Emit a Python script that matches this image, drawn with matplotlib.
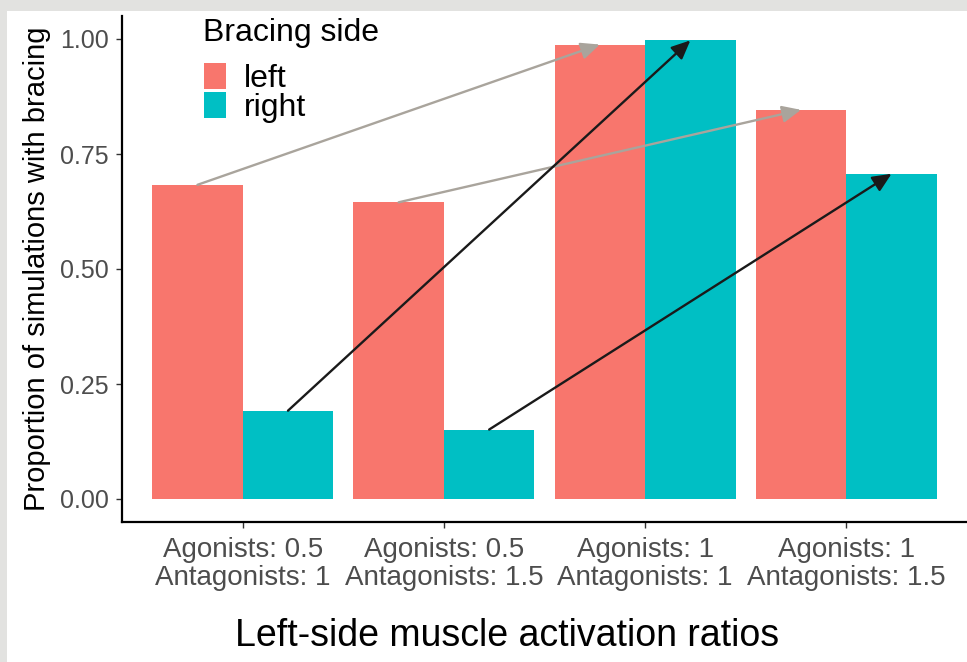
import numpy as np
import matplotlib
matplotlib.use('Agg')
import matplotlib.pyplot as plt
from matplotlib.patches import Rectangle, Patch

plt.rcParams['font.family'] = ['Liberation Sans', 'DejaVu Sans']

# data
groups = ['Agonists: 0.5\nAntagonists: 1', 'Agonists: 0.5\nAntagonists: 1.5',
          'Agonists: 1\nAntagonists: 1', 'Agonists: 1\nAntagonists: 1.5']
left_vals = [0.683, 0.645, 0.988, 0.846]
right_vals = [0.192, 0.151, 0.997, 0.707]
sides = ['left', 'right']
side_colors = ['#F8766D', '#00BFC4']
# arrows: from group i to group j for each side
arrow_pairs = [(0, 2), (1, 3)]
arrow_colors = {'left': '#a9a49c', 'right': '#1a1a1a'}

W, H = 967, 662
fig = plt.figure(figsize=(W/100, H/100), dpi=100, facecolor='#e2e2e0')
fig.patches.append(Rectangle((7/W, 0), 1, 1 - 11/H, transform=fig.transFigure,
                             facecolor='white', edgecolor='none', zorder=-1))

ax = fig.add_axes([122/W, 1 - 522/H, 1 - 122/W, (522 - 16)/H])
ax.set_facecolor('white')

x = np.arange(1, len(groups) + 1)
bw = 0.45
offs = {'left': -bw/2, 'right': bw/2}
vals = {'left': left_vals, 'right': right_vals}
for s, c in zip(sides, side_colors):
    ax.bar(x + offs[s], vals[s], width=bw, color=c, zorder=2)

for s in sides:
    for i, j in arrow_pairs:
        ax.annotate('', xy=(x[j] + offs[s], vals[s][j]), xytext=(x[i] + offs[s], vals[s][i]),
                    arrowprops=dict(arrowstyle='-|>,head_length=0.6,head_width=0.27',
                                    color=arrow_colors[s], lw=1.7, shrinkA=0, shrinkB=0,
                                    mutation_scale=19),
                    zorder=3)

ax.set_xlim(0.4, 4.6)
ax.set_ylim(-0.05, 1.05)
ax.set_yticks([0, 0.25, 0.5, 0.75, 1.0])
ax.set_yticklabels(['0.00', '0.25', '0.50', '0.75', '1.00'])
ax.set_xticks(x)
ax.set_xticklabels(groups, linespacing=1.12)

for sp in ['top', 'right']:
    ax.spines[sp].set_visible(False)
for sp in ['left', 'bottom']:
    ax.spines[sp].set_color('black')
    ax.spines[sp].set_linewidth(1.6)

ax.tick_params(axis='y', labelsize=18, labelcolor='#4d4d4d', color='#333333', length=4.5, width=1, pad=5)
ax.tick_params(axis='x', labelsize=20, labelcolor='#4d4d4d', color='#333333', length=4.5, width=1, pad=6)

ax.set_ylabel('Proportion of simulations with bracing', fontsize=21, color='black')
ax.yaxis.set_label_coords(-(122 - 37)/(W - 122), 0.5)
ax.set_xlabel('Left-side muscle activation ratios', fontsize=27, color='black')
ax.xaxis.set_label_coords((507 - 122)/(W - 122), -(636 - 522)/(522 - 16))
ax.xaxis.label.set_va('center')
ax.yaxis.label.set_va('center')

# legend
fig.text(203/W, 1 - 33/H, 'Bracing side', fontsize=23, ha='left', va='center')
handles = [Patch(facecolor=c, edgecolor='none') for c in side_colors]
ax.legend(handles, sides, loc='upper left', bbox_to_anchor=(204/W, 1 - 63/H),
          bbox_transform=fig.transFigure, frameon=False, fontsize=23,
          handlelength=0.69, handleheight=0.86, handletextpad=0.55,
          labelspacing=-0.05, borderpad=0, borderaxespad=0)

fig.savefig('out.png', dpi=100, facecolor=fig.get_facecolor())
